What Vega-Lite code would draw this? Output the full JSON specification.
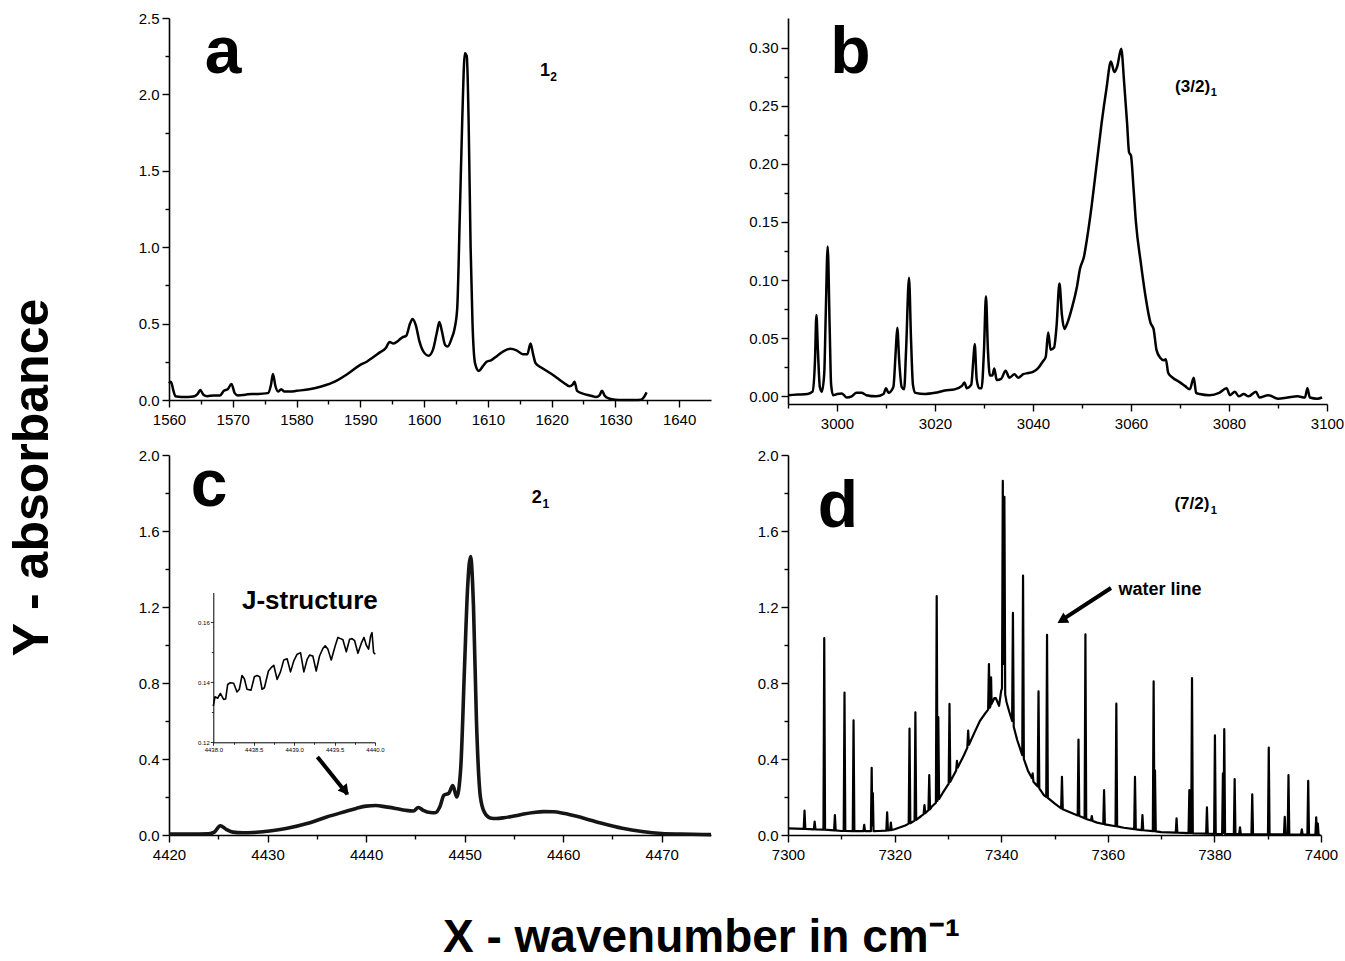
{
  "$schema": "https://vega.github.io/schema/vega-lite/v6.json",
  "padding": {"left": 6, "top": 11, "right": 0, "bottom": 0},
  "background": "white",
  "config": {
    "view": {"stroke": null},
    "axis": {"domainColor": "black", "domainWidth": 1.6, "tickColor": "black", "tickWidth": 1.4, "labelColor": "black", "labelFont": "Liberation Sans", "labelFontSize": 15, "labelFlush": false, "labelOverlap": false, "grid": false, "titleColor": "black"},
    "axisX": {"labelPadding": 5},
    "axisY": {"labelPadding": 3},
    "text": {"font": "Liberation Sans", "color": "black", "fontWeight": "bold"}
  },
  "datasets": {
    "a": [
      {"x":1560.0,"y":0.11},{"x":1560.3,"y":0.12},{"x":1560.7,"y":0.06},{"x":1561.0,"y":0.025},{"x":1562,"y":0.02},{"x":1563,"y":0.02},{"x":1564,"y":0.025},{"x":1564.5,"y":0.04},{"x":1564.9,"y":0.065},{"x":1565.4,"y":0.035},{"x":1566,"y":0.025},{"x":1567,"y":0.03},{"x":1568,"y":0.03},{"x":1568.6,"y":0.06},{"x":1569.2,"y":0.07},{"x":1569.8,"y":0.105},{"x":1570.3,"y":0.045},{"x":1570.8,"y":0.03},{"x":1572,"y":0.035},{"x":1573,"y":0.04},{"x":1574,"y":0.04},{"x":1575.5,"y":0.045},{"x":1576.0,"y":0.1},{"x":1576.3,"y":0.17},{"x":1576.7,"y":0.09},{"x":1577.1,"y":0.055},{"x":1577.6,"y":0.07},{"x":1578.1,"y":0.055},{"x":1579,"y":0.055},{"x":1580,"y":0.06},{"x":1582,"y":0.07},{"x":1584,"y":0.09},{"x":1586,"y":0.12},{"x":1588,"y":0.17},{"x":1590,"y":0.23},{"x":1591,"y":0.25},{"x":1592,"y":0.28},{"x":1593,"y":0.31},{"x":1594,"y":0.34},{"x":1594.6,"y":0.38},{"x":1595.2,"y":0.37},{"x":1596,"y":0.39},{"x":1596.6,"y":0.41},{"x":1597.2,"y":0.42},{"x":1597.8,"y":0.5},{"x":1598.2,"y":0.53},{"x":1598.7,"y":0.49},{"x":1599.3,"y":0.38},{"x":1600,"y":0.31},{"x":1600.7,"y":0.29},{"x":1601.4,"y":0.33},{"x":1602.0,"y":0.44},{"x":1602.4,"y":0.51},{"x":1602.8,"y":0.45},{"x":1603.3,"y":0.36},{"x":1603.7,"y":0.35},{"x":1604.3,"y":0.4},{"x":1604.8,"y":0.47},{"x":1605.2,"y":0.6},{"x":1605.6,"y":1.2},{"x":1606.0,"y":1.85},{"x":1606.4,"y":2.27},{"x":1606.7,"y":2.25},{"x":1607.0,"y":1.8},{"x":1607.3,"y":1.0},{"x":1607.6,"y":0.5},{"x":1608.0,"y":0.24},{"x":1608.6,"y":0.19},{"x":1609.2,"y":0.22},{"x":1609.8,"y":0.25},{"x":1610.5,"y":0.26},{"x":1611.5,"y":0.29},{"x":1612.5,"y":0.32},{"x":1613.5,"y":0.335},{"x":1614.5,"y":0.325},{"x":1615.5,"y":0.3},{"x":1616.2,"y":0.3},{"x":1616.7,"y":0.37},{"x":1617.1,"y":0.3},{"x":1617.5,"y":0.24},{"x":1618.5,"y":0.21},{"x":1620,"y":0.17},{"x":1621,"y":0.14},{"x":1622,"y":0.11},{"x":1622.8,"y":0.09},{"x":1623.3,"y":0.1},{"x":1623.6,"y":0.12},{"x":1624.0,"y":0.06},{"x":1625,"y":0.04},{"x":1626,"y":0.03},{"x":1627,"y":0.02},{"x":1627.5,"y":0.03},{"x":1627.9,"y":0.06},{"x":1628.3,"y":0.03},{"x":1629,"y":0.01},{"x":1630,"y":0.002},{"x":1631,"y":0.0},{"x":1632,"y":0.0},{"x":1633,"y":0.0},{"x":1634,"y":0.002},{"x":1634.5,"y":0.02},{"x":1634.9,"y":0.05}
    ],
    "b": [
      {"x":2990,"y":0.001},{"x":2992,"y":0.0015},{"x":2994,"y":0.002},{"x":2995,"y":0.004},{"x":2995.5,"y":0.03},{"x":2995.8,"y":0.07},{"x":2996.1,"y":0.04},{"x":2996.5,"y":0.008},{"x":2996.9,"y":0.004},{"x":2997.4,"y":0.02},{"x":2997.7,"y":0.07},{"x":2998.1,"y":0.129},{"x":2998.5,"y":0.06},{"x":2998.8,"y":0.01},{"x":2999.2,"y":0.001},{"x":3000,"y":0.002},{"x":3001,"y":0.0025},{"x":3002,"y":-0.001},{"x":3003,"y":0.0},{"x":3004,"y":0.003},{"x":3005,"y":0.003},{"x":3006,"y":0.001},{"x":3008,"y":0.0},{"x":3009.5,"y":0.002},{"x":3010,"y":0.007},{"x":3010.5,"y":0.003},{"x":3011.5,"y":0.008},{"x":3012.0,"y":0.04},{"x":3012.3,"y":0.059},{"x":3012.7,"y":0.03},{"x":3013.2,"y":0.008},{"x":3013.7,"y":0.006},{"x":3014.1,"y":0.04},{"x":3014.7,"y":0.102},{"x":3015.1,"y":0.05},{"x":3015.5,"y":0.01},{"x":3016,"y":0.003},{"x":3018,"y":0.002},{"x":3020,"y":0.003},{"x":3022,"y":0.005},{"x":3024,"y":0.006},{"x":3025.5,"y":0.009},{"x":3026.0,"y":0.012},{"x":3026.5,"y":0.007},{"x":3027.4,"y":0.01},{"x":3027.8,"y":0.03},{"x":3028.1,"y":0.045},{"x":3028.5,"y":0.015},{"x":3029.0,"y":0.007},{"x":3029.5,"y":0.007},{"x":3030.0,"y":0.04},{"x":3030.4,"y":0.086},{"x":3030.8,"y":0.04},{"x":3031.2,"y":0.018},{"x":3031.7,"y":0.018},{"x":3032.1,"y":0.024},{"x":3032.6,"y":0.014},{"x":3033.5,"y":0.015},{"x":3034.4,"y":0.022},{"x":3035.2,"y":0.016},{"x":3036.2,"y":0.019},{"x":3037.0,"y":0.016},{"x":3038,"y":0.019},{"x":3039,"y":0.02},{"x":3040,"y":0.021},{"x":3041,"y":0.024},{"x":3042,"y":0.03},{"x":3042.6,"y":0.034},{"x":3043.1,"y":0.055},{"x":3043.6,"y":0.04},{"x":3044.3,"y":0.042},{"x":3044.8,"y":0.06},{"x":3045.4,"y":0.097},{"x":3045.9,"y":0.07},{"x":3046.4,"y":0.058},{"x":3047,"y":0.063},{"x":3048,"y":0.077},{"x":3049,"y":0.095},{"x":3049.6,"y":0.11},{"x":3050.4,"y":0.12},{"x":3051,"y":0.135},{"x":3052,"y":0.165},{"x":3053,"y":0.2},{"x":3054,"y":0.235},{"x":3055,"y":0.265},{"x":3055.9,"y":0.288},{"x":3056.6,"y":0.279},{"x":3057.2,"y":0.284},{"x":3058.0,"y":0.299},{"x":3058.6,"y":0.27},{"x":3059.2,"y":0.235},{"x":3059.6,"y":0.21},{"x":3060.0,"y":0.207},{"x":3060.5,"y":0.18},{"x":3061,"y":0.15},{"x":3062,"y":0.115},{"x":3063,"y":0.085},{"x":3064,"y":0.063},{"x":3064.6,"y":0.058},{"x":3065.2,"y":0.04},{"x":3066,"y":0.033},{"x":3066.7,"y":0.031},{"x":3067.1,"y":0.032},{"x":3067.6,"y":0.02},{"x":3068.5,"y":0.016},{"x":3070,"y":0.012},{"x":3071,"y":0.009},{"x":3072,"y":0.006},{"x":3072.8,"y":0.016},{"x":3073.3,"y":0.003},{"x":3074,"y":0.002},{"x":3076,"y":0.001},{"x":3078,"y":0.003},{"x":3079.5,"y":0.007},{"x":3080.2,"y":0.001},{"x":3081.2,"y":0.004},{"x":3082,"y":0.0},{"x":3083,"y":0.002},{"x":3084,"y":0.0},{"x":3085.5,"y":0.004},{"x":3086.2,"y":-0.001},{"x":3088,"y":0.001},{"x":3090,"y":-0.002},{"x":3092,"y":-0.001},{"x":3094,"y":0.0},{"x":3095.5,"y":-0.001},{"x":3096,"y":0.007},{"x":3096.5,"y":-0.001},{"x":3098,"y":-0.002},{"x":3099,"y":-0.001}
    ],
    "c": [
      {"x":4420,"y":0.005},{"x":4422,"y":0.005},{"x":4424,"y":0.006},{"x":4424.6,"y":0.015},{"x":4425.2,"y":0.049},{"x":4425.8,"y":0.03},{"x":4426.5,"y":0.015},{"x":4427.5,"y":0.012},{"x":4428.5,"y":0.013},{"x":4430,"y":0.02},{"x":4432,"y":0.035},{"x":4434,"y":0.06},{"x":4436,"y":0.095},{"x":4438,"y":0.125},{"x":4439,"y":0.14},{"x":4440,"y":0.152},{"x":4441,"y":0.155},{"x":4442,"y":0.148},{"x":4443,"y":0.14},{"x":4444,"y":0.13},{"x":4444.8,"y":0.126},{"x":4445.3,"y":0.145},{"x":4445.8,"y":0.13},{"x":4446.5,"y":0.118},{"x":4447,"y":0.117},{"x":4447.5,"y":0.15},{"x":4447.9,"y":0.21},{"x":4448.4,"y":0.22},{"x":4448.8,"y":0.26},{"x":4449.2,"y":0.2},{"x":4449.6,"y":0.35},{"x":4450.0,"y":0.9},{"x":4450.3,"y":1.3},{"x":4450.6,"y":1.466},{"x":4450.9,"y":1.2},{"x":4451.2,"y":0.6},{"x":4451.6,"y":0.2},{"x":4452,"y":0.12},{"x":4452.6,"y":0.09},{"x":4453.2,"y":0.087},{"x":4454,"y":0.091},{"x":4455,"y":0.1},{"x":4456,"y":0.11},{"x":4457,"y":0.118},{"x":4458,"y":0.123},{"x":4459,"y":0.122},{"x":4460,"y":0.115},{"x":4462,"y":0.09},{"x":4464,"y":0.06},{"x":4466,"y":0.035},{"x":4468,"y":0.018},{"x":4470,"y":0.008},{"x":4472,"y":0.005},{"x":4475,"y":0.002}
    ],
    "inset": [
      {"x":4438.000,"y":0.1321},{"x":4438.021,"y":0.1352},{"x":4438.054,"y":0.1347},{"x":4438.087,"y":0.1363},{"x":4438.128,"y":0.1343},{"x":4438.153,"y":0.1345},{"x":4438.178,"y":0.1393},{"x":4438.211,"y":0.1399},{"x":4438.252,"y":0.1397},{"x":4438.293,"y":0.1368},{"x":4438.322,"y":0.1377},{"x":4438.355,"y":0.1423},{"x":4438.384,"y":0.1412},{"x":4438.417,"y":0.1377},{"x":4438.467,"y":0.1374},{"x":4438.508,"y":0.1419},{"x":4438.541,"y":0.1423},{"x":4438.574,"y":0.1419},{"x":4438.603,"y":0.1377},{"x":4438.632,"y":0.1382},{"x":4438.682,"y":0.1438},{"x":4438.715,"y":0.1449},{"x":4438.748,"y":0.1457},{"x":4438.789,"y":0.1410},{"x":4438.831,"y":0.1435},{"x":4438.872,"y":0.1475},{"x":4438.913,"y":0.1479},{"x":4438.955,"y":0.1435},{"x":4438.996,"y":0.1472},{"x":4439.037,"y":0.1494},{"x":4439.079,"y":0.1499},{"x":4439.120,"y":0.1435},{"x":4439.161,"y":0.1477},{"x":4439.190,"y":0.1491},{"x":4439.231,"y":0.1488},{"x":4439.273,"y":0.1438},{"x":4439.314,"y":0.1488},{"x":4439.355,"y":0.1513},{"x":4439.384,"y":0.1522},{"x":4439.417,"y":0.1511},{"x":4439.459,"y":0.1475},{"x":4439.508,"y":0.1522},{"x":4439.541,"y":0.1550},{"x":4439.574,"y":0.1546},{"x":4439.603,"y":0.1542},{"x":4439.645,"y":0.1502},{"x":4439.686,"y":0.1544},{"x":4439.715,"y":0.1546},{"x":4439.748,"y":0.1539},{"x":4439.789,"y":0.1497},{"x":4439.831,"y":0.1531},{"x":4439.864,"y":0.1550},{"x":4439.893,"y":0.1524},{"x":4439.921,"y":0.1511},{"x":4439.946,"y":0.1555},{"x":4439.963,"y":0.1566},{"x":4439.983,"y":0.1499},{"x":4440.004,"y":0.1494}
    ],
    "d": [
      {"x":7300,"y":0.035},{"x":7302.95,"y":0.032},{"x":7303.1,"y":0.128},{"x":7303.25,"y":0.032},{"x":7304.85,"y":0.03},{"x":7305.0,"y":0.07},{"x":7305.15,"y":0.03},{"x":7306.65,"y":0.028},{"x":7306.8,"y":1.036},{"x":7306.95,"y":0.028},{"x":7308.65,"y":0.024},{"x":7308.8,"y":0.105},{"x":7308.95,"y":0.024},{"x":7310,"y":0.021},{"x":7310.45,"y":0.021},{"x":7310.6,"y":0.749},{"x":7310.75,"y":0.021},{"x":7312.15,"y":0.02},{"x":7312.3,"y":0.604},{"x":7312.45,"y":0.02},{"x":7314.15,"y":0.02},{"x":7314.3,"y":0.053},{"x":7314.45,"y":0.02},{"x":7315.55,"y":0.02},{"x":7315.7,"y":0.354},{"x":7315.82,"y":0.05},{"x":7315.92,"y":0.22},{"x":7316.05,"y":0.02},{"x":7317,"y":0.021},{"x":7318.45,"y":0.023},{"x":7318.6,"y":0.119},{"x":7318.75,"y":0.024},{"x":7319.15,"y":0.025},{"x":7319.3,"y":0.065},{"x":7319.45,"y":0.026},{"x":7320,"y":0.03},{"x":7322,"y":0.05},{"x":7322.65,"y":0.06},{"x":7322.8,"y":0.56},{"x":7322.95,"y":0.062},{"x":7323.75,"y":0.076},{"x":7323.9,"y":0.646},{"x":7324.05,"y":0.08},{"x":7325,"y":0.1},{"x":7325.45,"y":0.11},{"x":7325.6,"y":0.158},{"x":7325.75,"y":0.115},{"x":7326.35,"y":0.13},{"x":7326.5,"y":0.315},{"x":7326.65,"y":0.135},{"x":7327,"y":0.15},{"x":7327.75,"y":0.17},{"x":7327.9,"y":1.257},{"x":7328.05,"y":0.18},{"x":7328.2,"y":0.62},{"x":7328.35,"y":0.19},{"x":7329,"y":0.22},{"x":7330.15,"y":0.27},{"x":7330.3,"y":0.69},{"x":7330.45,"y":0.28},{"x":7331,"y":0.31},{"x":7331.55,"y":0.34},{"x":7331.7,"y":0.39},{"x":7331.85,"y":0.355},{"x":7333,"y":0.42},{"x":7333.65,"y":0.46},{"x":7333.8,"y":0.55},{"x":7333.95,"y":0.475},{"x":7335,"y":0.54},{"x":7336,"y":0.6},{"x":7337,"y":0.64},{"x":7337.55,"y":0.66},{"x":7337.7,"y":0.9},{"x":7337.85,"y":0.67},{"x":7338.0,"y":0.68},{"x":7338.1,"y":0.83},{"x":7338.2,"y":0.69},{"x":7338.7,"y":0.72},{"x":7339,"y":0.72},{"x":7339.6,"y":0.68},{"x":7340.0,"y":0.76},{"x":7340.15,"y":0.77},{"x":7340.3,"y":1.864},{"x":7340.45,"y":0.9},{"x":7340.6,"y":1.78},{"x":7340.75,"y":0.74},{"x":7341,"y":0.7},{"x":7341.5,"y":0.65},{"x":7342.05,"y":0.6},{"x":7342.2,"y":1.169},{"x":7342.35,"y":0.57},{"x":7343,"y":0.5},{"x":7343.95,"y":0.42},{"x":7344.1,"y":1.365},{"x":7344.25,"y":0.4},{"x":7345,"y":0.34},{"x":7345.75,"y":0.3},{"x":7345.9,"y":0.324},{"x":7346.05,"y":0.28},{"x":7346.85,"y":0.255},{"x":7347.0,"y":0.756},{"x":7347.15,"y":0.245},{"x":7348,"y":0.21},{"x":7348.45,"y":0.2},{"x":7348.6,"y":1.054},{"x":7348.75,"y":0.195},{"x":7350,"y":0.166},{"x":7351.25,"y":0.14},{"x":7351.4,"y":0.306},{"x":7351.55,"y":0.136},{"x":7352,"y":0.13},{"x":7354.35,"y":0.103},{"x":7354.5,"y":0.502},{"x":7354.65,"y":0.1},{"x":7355,"y":0.096},{"x":7355.65,"y":0.088},{"x":7355.8,"y":1.056},{"x":7355.95,"y":0.084},{"x":7356.85,"y":0.076},{"x":7357.0,"y":0.1},{"x":7357.15,"y":0.074},{"x":7358,"y":0.065},{"x":7359.15,"y":0.058},{"x":7359.3,"y":0.236},{"x":7359.45,"y":0.056},{"x":7360,"y":0.053},{"x":7361.45,"y":0.046},{"x":7361.6,"y":0.691},{"x":7361.75,"y":0.045},{"x":7363,"y":0.038},{"x":7364.95,"y":0.031},{"x":7365.1,"y":0.306},{"x":7365.25,"y":0.03},{"x":7366.35,"y":0.026},{"x":7366.5,"y":0.105},{"x":7366.65,"y":0.025},{"x":7368.45,"y":0.02},{"x":7368.6,"y":0.809},{"x":7368.75,"y":0.02},{"x":7368.85,"y":0.34},{"x":7369.0,"y":0.019},{"x":7370,"y":0.015},{"x":7372.75,"y":0.012},{"x":7372.9,"y":0.088},{"x":7373.05,"y":0.012},{"x":7375.15,"y":0.01},{"x":7375.3,"y":0.236},{"x":7375.45,"y":0.01},{"x":7375.65,"y":0.01},{"x":7375.8,"y":0.826},{"x":7375.95,"y":0.009},{"x":7377,"y":0.008},{"x":7378.45,"y":0.007},{"x":7378.6,"y":0.145},{"x":7378.75,"y":0.007},{"x":7379.95,"y":0.006},{"x":7380.1,"y":0.525},{"x":7380.25,"y":0.006},{"x":7381.45,"y":0.005},{"x":7381.6,"y":0.324},{"x":7381.7,"y":0.01},{"x":7381.85,"y":0.557},{"x":7382.0,"y":0.005},{"x":7383.65,"y":0.005},{"x":7383.8,"y":0.294},{"x":7383.95,"y":0.005},{"x":7384.65,"y":0.005},{"x":7384.8,"y":0.04},{"x":7384.95,"y":0.005},{"x":7386.95,"y":0.004},{"x":7387.1,"y":0.214},{"x":7387.25,"y":0.004},{"x":7390.05,"y":0.003},{"x":7390.2,"y":0.46},{"x":7390.35,"y":0.003},{"x":7393.05,"y":0.003},{"x":7393.2,"y":0.096},{"x":7393.35,"y":0.003},{"x":7393.75,"y":0.003},{"x":7393.9,"y":0.315},{"x":7394.05,"y":0.003},{"x":7396.25,"y":0.002},{"x":7396.4,"y":0.03},{"x":7396.55,"y":0.002},{"x":7397.45,"y":0.002},{"x":7397.6,"y":0.285},{"x":7397.75,"y":0.002},{"x":7398.95,"y":0.001},{"x":7399.1,"y":0.093},{"x":7399.25,"y":0.001},{"x":7399.3,"y":0.001},{"x":7399.4,"y":0.06},{"x":7399.55,"y":0.001},{"x":7399.9,"y":0.0}
    ]
  },
  "columns": 2,
  "bounds": "flush",
  "spacing": {"row": 51, "column": 77},
  "concat": [
    {
      "width": 542, "height": 382,
      "resolve": {"scale": {"x": "independent", "y": "independent"}, "axis": {"x": "independent", "y": "independent"}},
      "layer": [
        {
          "data": {"name": "a"},
          "mark": {"type": "line", "color": "black", "strokeWidth": 2.5, "interpolate": "monotone", "strokeJoin": "round"},
          "encoding": {
            "x": {"field": "x", "type": "quantitative", "scale": {"domain": [1560, 1645], "nice": false, "zero": false},
              "axis": {"orient": "bottom", "title": null, "format": "d", "values": [1560,1565,1570,1575,1580,1585,1590,1595,1600,1605,1610,1615,1620,1625,1630,1635,1640], "labelExpr": "datum.value % 10 === 0 ? datum.label : ''", "tickSize": {"condition": {"test": "datum.value % 10 === 0", "value": 7}, "value": 4}}},
            "y": {"field": "y", "type": "quantitative", "scale": {"domain": [0, 2.5], "nice": false, "zero": false},
              "axis": {"orient": "left", "title": null, "values": [0,0.25,0.5,0.75,1,1.25,1.5,1.75,2,2.25,2.5], "format": ".1f", "labelExpr": "round(datum.value*100) % 50 === 0 ? datum.label : ''", "tickSize": {"condition": {"test": "round(datum.value*100) % 50 === 0", "value": 7}, "value": 4}}}
          }
        },
        {
          "data": {"values": [{"x": 1565.6, "y": 2.14, "t": "a"}]},
          "mark": {"type": "text", "align": "left", "baseline": "alphabetic", "fontSize": 66},
          "encoding": {
            "x": {"field": "x", "type": "quantitative", "scale": {"domain": [1560, 1645], "nice": false, "zero": false}, "axis": null},
            "y": {"field": "y", "type": "quantitative", "scale": {"domain": [0, 2.5], "nice": false, "zero": false}, "axis": null},
            "text": {"field": "t"}
          }
        },
        {
          "data": {"values": [{"x": 1618.2, "y": 2.12, "t": "1"}]},
          "mark": {"type": "text", "align": "left", "baseline": "alphabetic", "fontSize": 18},
          "encoding": {
            "x": {"field": "x", "type": "quantitative", "scale": {"domain": [1560, 1645], "nice": false, "zero": false}, "axis": null},
            "y": {"field": "y", "type": "quantitative", "scale": {"domain": [0, 2.5], "nice": false, "zero": false}, "axis": null},
            "text": {"field": "t"}
          }
        },
        {
          "data": {"values": [{"x": 1619.8, "y": 2.09, "t": "2"}]},
          "mark": {"type": "text", "align": "left", "baseline": "alphabetic", "fontSize": 12},
          "encoding": {
            "x": {"field": "x", "type": "quantitative", "scale": {"domain": [1560, 1645], "nice": false, "zero": false}, "axis": null},
            "y": {"field": "y", "type": "quantitative", "scale": {"domain": [0, 2.5], "nice": false, "zero": false}, "axis": null},
            "text": {"field": "t"}
          }
        }
      ]
    },
    {
      "width": 539, "height": 386,
      "resolve": {"scale": {"x": "independent", "y": "independent"}, "axis": {"x": "independent", "y": "independent"}},
      "layer": [
        {
          "data": {"name": "b"},
          "mark": {"type": "line", "color": "black", "strokeWidth": 2.5, "interpolate": "monotone", "strokeJoin": "round"},
          "encoding": {
            "x": {"field": "x", "type": "quantitative", "scale": {"domain": [2990, 3100], "nice": false, "zero": false},
              "axis": {"orient": "bottom", "title": null, "format": "d", "values": [2990,3000,3010,3020,3030,3040,3050,3060,3070,3080,3090,3100], "labelExpr": "datum.value % 20 === 0 ? datum.label : ''", "tickSize": {"condition": {"test": "datum.value % 20 === 0", "value": 7}, "value": 4}}},
            "y": {"field": "y", "type": "quantitative", "scale": {"domain": [-0.0066, 0.3255], "nice": false, "zero": false},
              "axis": {"orient": "left", "title": null, "values": [0,0.025,0.05,0.075,0.1,0.125,0.15,0.175,0.2,0.225,0.25,0.275,0.3], "format": ".2f", "labelExpr": "round(datum.value*1000) % 50 === 0 ? datum.label : ''", "tickSize": {"condition": {"test": "round(datum.value*1000) % 50 === 0", "value": 7}, "value": 4}}}
          }
        },
        {
          "data": {"values": [{"x": 2998.6, "y": 0.278, "t": "b"}]},
          "mark": {"type": "text", "align": "left", "baseline": "alphabetic", "fontSize": 66},
          "encoding": {
            "x": {"field": "x", "type": "quantitative", "scale": {"domain": [2990, 3100], "nice": false, "zero": false}, "axis": null},
            "y": {"field": "y", "type": "quantitative", "scale": {"domain": [-0.0066, 0.3255], "nice": false, "zero": false}, "axis": null},
            "text": {"field": "t"}
          }
        },
        {
          "data": {"values": [{"x": 3069, "y": 0.262, "t": "(3/2)"}]},
          "mark": {"type": "text", "align": "left", "baseline": "alphabetic", "fontSize": 17},
          "encoding": {
            "x": {"field": "x", "type": "quantitative", "scale": {"domain": [2990, 3100], "nice": false, "zero": false}, "axis": null},
            "y": {"field": "y", "type": "quantitative", "scale": {"domain": [-0.0066, 0.3255], "nice": false, "zero": false}, "axis": null},
            "text": {"field": "t"}
          }
        },
        {
          "data": {"values": [{"x": 3076.3, "y": 0.258, "t": "1"}]},
          "mark": {"type": "text", "align": "left", "baseline": "alphabetic", "fontSize": 11},
          "encoding": {
            "x": {"field": "x", "type": "quantitative", "scale": {"domain": [2990, 3100], "nice": false, "zero": false}, "axis": null},
            "y": {"field": "y", "type": "quantitative", "scale": {"domain": [-0.0066, 0.3255], "nice": false, "zero": false}, "axis": null},
            "text": {"field": "t"}
          }
        }
      ]
    },
    {
      "width": 542, "height": 380,
      "resolve": {"scale": {"x": "independent", "y": "independent"}, "axis": {"x": "independent", "y": "independent"}},
      "layer": [
        {
          "data": {"name": "c"},
          "mark": {"type": "line", "color": "#151515", "strokeWidth": 3.6, "interpolate": "monotone", "strokeJoin": "round"},
          "encoding": {
            "x": {"field": "x", "type": "quantitative", "scale": {"domain": [4420, 4475], "nice": false, "zero": false},
              "axis": {"orient": "bottom", "format": "d", "title": "X - wavenumber in cm⁻¹", "titleFont": "Liberation Sans", "titleFontSize": 46, "titleFontWeight": "bold", "titleX": 532, "titleY": 116, "titleAlign": "center", "titleBaseline": "alphabetic", "values": [4420,4425,4430,4435,4440,4445,4450,4455,4460,4465,4470], "labelExpr": "datum.value % 10 === 0 ? datum.label : ''", "tickSize": {"condition": {"test": "datum.value % 10 === 0", "value": 7}, "value": 4}}},
            "y": {"field": "y", "type": "quantitative", "scale": {"domain": [0, 2.0], "nice": false, "zero": false},
              "axis": {"orient": "left", "title": "Y - absorbance", "titleFont": "Liberation Sans", "titleFontSize": 50, "titleFontWeight": "bold", "titleAngle": -90, "titleX": -137, "titleY": 22, "titleAlign": "center", "titleBaseline": "middle", "values": [0,0.2,0.4,0.6,0.8,1,1.2,1.4,1.6,1.8,2.0], "format": ".1f", "labelExpr": "round(datum.value*10) % 4 === 0 ? datum.label : ''", "tickSize": {"condition": {"test": "round(datum.value*10) % 4 === 0", "value": 7}, "value": 4}}}
          }
        },
        {
          "data": {"name": "inset"},
          "mark": {"type": "line", "color": "black", "strokeWidth": 1.6, "strokeJoin": "round"},
          "encoding": {
            "x": {"field": "x", "type": "quantitative", "scale": {"domain": [4438, 4440], "range": [44.3, 206], "nice": false, "zero": false},
              "axis": {"orient": "bottom", "offset": -92.7, "title": null, "values": [4438,4438.25,4438.5,4438.75,4439,4439.25,4439.5,4439.75,4440], "format": ".1f", "labelExpr": "round(datum.value*100) % 50 === 0 ? datum.label : ''", "labelFontSize": 6, "labelPadding": 1, "domainWidth": 1, "tickWidth": 0.8, "tickSize": {"condition": {"test": "round(datum.value*100) % 50 === 0", "value": 3}, "value": 2}}},
            "y": {"field": "y", "type": "quantitative", "scale": {"domain": [0.12, 0.17], "range": [287.3, 137.5], "nice": false, "zero": false},
              "axis": {"orient": "left", "offset": -44.3, "title": null, "values": [0.12,0.13,0.14,0.15,0.16], "format": ".2f", "labelExpr": "round(datum.value*100) % 2 === 0 ? datum.label : ''", "labelFontSize": 6, "labelPadding": 1, "domainWidth": 1, "tickWidth": 0.8, "tickSize": {"condition": {"test": "round(datum.value*100) % 2 === 0", "value": 3}, "value": 2}}}
          }
        },
        {
          "data": {"values": [{"x": 4422.2, "y": 1.73, "t": "c"}]},
          "mark": {"type": "text", "align": "left", "baseline": "alphabetic", "fontSize": 66},
          "encoding": {
            "x": {"field": "x", "type": "quantitative", "scale": {"domain": [4420, 4475], "nice": false, "zero": false}, "axis": null},
            "y": {"field": "y", "type": "quantitative", "scale": {"domain": [0, 2.0], "nice": false, "zero": false}, "axis": null},
            "text": {"field": "t"}
          }
        },
        {
          "data": {"values": [{"x": 4456.8, "y": 1.745, "t": "2"}]},
          "mark": {"type": "text", "align": "left", "baseline": "alphabetic", "fontSize": 18},
          "encoding": {
            "x": {"field": "x", "type": "quantitative", "scale": {"domain": [4420, 4475], "nice": false, "zero": false}, "axis": null},
            "y": {"field": "y", "type": "quantitative", "scale": {"domain": [0, 2.0], "nice": false, "zero": false}, "axis": null},
            "text": {"field": "t"}
          }
        },
        {
          "data": {"values": [{"x": 4457.9, "y": 1.72, "t": "1"}]},
          "mark": {"type": "text", "align": "left", "baseline": "alphabetic", "fontSize": 12},
          "encoding": {
            "x": {"field": "x", "type": "quantitative", "scale": {"domain": [4420, 4475], "nice": false, "zero": false}, "axis": null},
            "y": {"field": "y", "type": "quantitative", "scale": {"domain": [0, 2.0], "nice": false, "zero": false}, "axis": null},
            "text": {"field": "t"}
          }
        },
        {
          "data": {"values": [{"x": 4427.4, "y": 1.234, "t": "J-structure"}]},
          "mark": {"type": "text", "align": "left", "baseline": "middle", "fontSize": 26},
          "encoding": {
            "x": {"field": "x", "type": "quantitative", "scale": {"domain": [4420, 4475], "nice": false, "zero": false}, "axis": null},
            "y": {"field": "y", "type": "quantitative", "scale": {"domain": [0, 2.0], "nice": false, "zero": false}, "axis": null},
            "text": {"field": "t"}
          }
        },
        {
          "data": {"values": [{"x": 4435.06, "y": 0.411, "x2": 4438.1, "y2": 0.215}]},
          "mark": {"type": "rule", "color": "black", "strokeWidth": 4},
          "encoding": {
            "x": {"field": "x", "type": "quantitative", "scale": {"domain": [4420, 4475], "nice": false, "zero": false}, "axis": null},
            "y": {"field": "y", "type": "quantitative", "scale": {"domain": [0, 2.0], "nice": false, "zero": false}, "axis": null},
            "x2": {"field": "x2"},
            "y2": {"field": "y2"}
          }
        },
        {
          "data": {"values": [{"x": 4437.9, "y": 0.232}]},
          "mark": {"type": "point", "shape": "triangle-up", "filled": true, "color": "black", "size": 140, "angle": 141.4, "opacity": 1},
          "encoding": {
            "x": {"field": "x", "type": "quantitative", "scale": {"domain": [4420, 4475], "nice": false, "zero": false}, "axis": null},
            "y": {"field": "y", "type": "quantitative", "scale": {"domain": [0, 2.0], "nice": false, "zero": false}, "axis": null}
          }
        }
      ]
    },
    {
      "width": 533, "height": 380,
      "resolve": {"scale": {"x": "independent", "y": "independent"}, "axis": {"x": "independent", "y": "independent"}},
      "layer": [
        {
          "data": {"name": "d"},
          "mark": {"type": "line", "color": "black", "strokeWidth": 2.2, "strokeJoin": "round"},
          "encoding": {
            "x": {"field": "x", "type": "quantitative", "scale": {"domain": [7300, 7400], "nice": false, "zero": false},
              "axis": {"orient": "bottom", "title": null, "format": "d", "values": [7300,7310,7320,7330,7340,7350,7360,7370,7380,7390,7400], "labelExpr": "datum.value % 20 === 0 ? datum.label : ''", "tickSize": {"condition": {"test": "datum.value % 20 === 0", "value": 7}, "value": 4}}},
            "y": {"field": "y", "type": "quantitative", "scale": {"domain": [0, 2.0], "nice": false, "zero": false},
              "axis": {"orient": "left", "title": null, "values": [0,0.2,0.4,0.6,0.8,1,1.2,1.4,1.6,1.8,2.0], "format": ".1f", "labelExpr": "round(datum.value*10) % 4 === 0 ? datum.label : ''", "tickSize": {"condition": {"test": "round(datum.value*10) % 4 === 0", "value": 7}, "value": 4}}}
          }
        },
        {
          "data": {"values": [{"x": 7305.6, "y": 1.62, "t": "d"}]},
          "mark": {"type": "text", "align": "left", "baseline": "alphabetic", "fontSize": 66},
          "encoding": {
            "x": {"field": "x", "type": "quantitative", "scale": {"domain": [7300, 7400], "nice": false, "zero": false}, "axis": null},
            "y": {"field": "y", "type": "quantitative", "scale": {"domain": [0, 2.0], "nice": false, "zero": false}, "axis": null},
            "text": {"field": "t"}
          }
        },
        {
          "data": {"values": [{"x": 7372.5, "y": 1.716, "t": "(7/2)"}]},
          "mark": {"type": "text", "align": "left", "baseline": "alphabetic", "fontSize": 17},
          "encoding": {
            "x": {"field": "x", "type": "quantitative", "scale": {"domain": [7300, 7400], "nice": false, "zero": false}, "axis": null},
            "y": {"field": "y", "type": "quantitative", "scale": {"domain": [0, 2.0], "nice": false, "zero": false}, "axis": null},
            "text": {"field": "t"}
          }
        },
        {
          "data": {"values": [{"x": 7379.3, "y": 1.69, "t": "1"}]},
          "mark": {"type": "text", "align": "left", "baseline": "alphabetic", "fontSize": 11},
          "encoding": {
            "x": {"field": "x", "type": "quantitative", "scale": {"domain": [7300, 7400], "nice": false, "zero": false}, "axis": null},
            "y": {"field": "y", "type": "quantitative", "scale": {"domain": [0, 2.0], "nice": false, "zero": false}, "axis": null},
            "text": {"field": "t"}
          }
        },
        {
          "data": {"values": [{"x": 7362, "y": 1.263, "t": "water line"}]},
          "mark": {"type": "text", "align": "left", "baseline": "alphabetic", "fontSize": 18},
          "encoding": {
            "x": {"field": "x", "type": "quantitative", "scale": {"domain": [7300, 7400], "nice": false, "zero": false}, "axis": null},
            "y": {"field": "y", "type": "quantitative", "scale": {"domain": [0, 2.0], "nice": false, "zero": false}, "axis": null},
            "text": {"field": "t"}
          }
        },
        {
          "data": {"values": [{"x": 7360.6, "y": 1.30, "x2": 7351.2, "y2": 1.128}]},
          "mark": {"type": "rule", "color": "black", "strokeWidth": 4},
          "encoding": {
            "x": {"field": "x", "type": "quantitative", "scale": {"domain": [7300, 7400], "nice": false, "zero": false}, "axis": null},
            "y": {"field": "y", "type": "quantitative", "scale": {"domain": [0, 2.0], "nice": false, "zero": false}, "axis": null},
            "x2": {"field": "x2"},
            "y2": {"field": "y2"}
          }
        },
        {
          "data": {"values": [{"x": 7351.4, "y": 1.13}]},
          "mark": {"type": "point", "shape": "triangle-up", "filled": true, "color": "black", "size": 140, "angle": 239.7, "opacity": 1},
          "encoding": {
            "x": {"field": "x", "type": "quantitative", "scale": {"domain": [7300, 7400], "nice": false, "zero": false}, "axis": null},
            "y": {"field": "y", "type": "quantitative", "scale": {"domain": [0, 2.0], "nice": false, "zero": false}, "axis": null}
          }
        }
      ]
    }
  ]
}
